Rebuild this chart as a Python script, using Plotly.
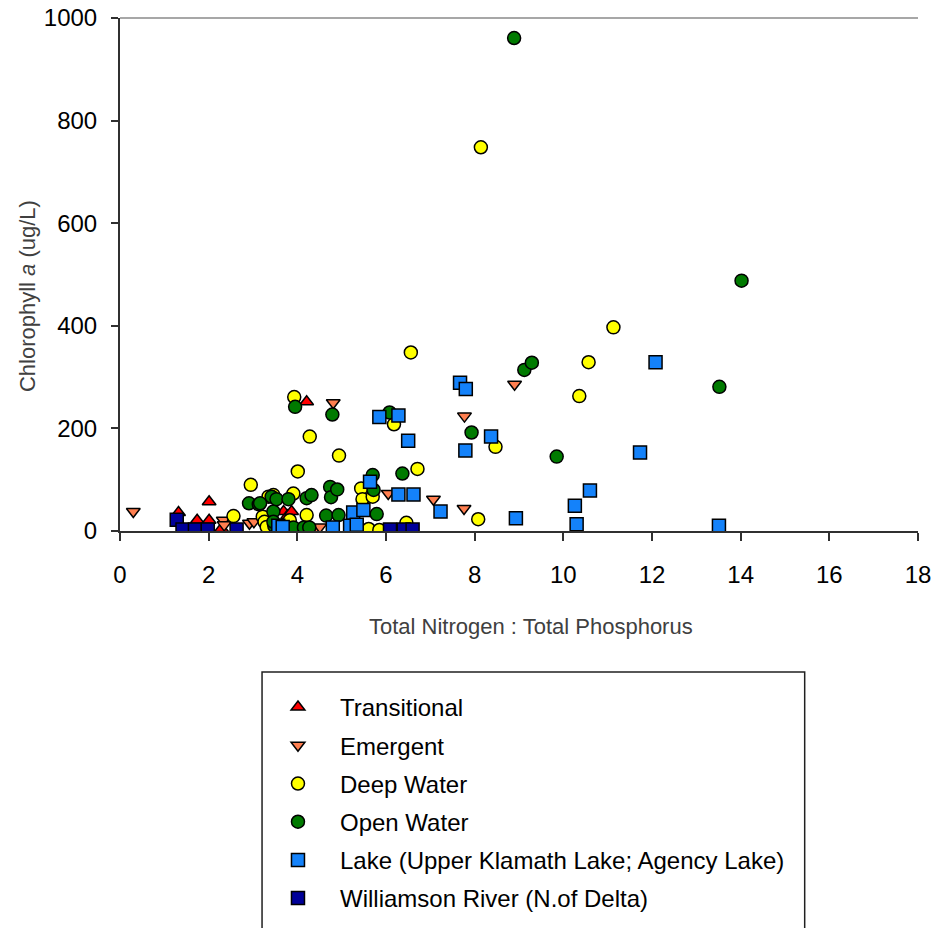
import plotly.graph_objects as go

series_names = ["Transitional", "Emergent", "Deep Water", "Open Water",
                "Lake (Upper Klamath Lake; Agency Lake)", "Williamson River (N.of Delta)"]

trans_x = [1.32, 1.74, 2.01, 2.01, 2.29, 3.69, 3.78, 3.87, 4.21]
trans_y = [36, 21, 21, 57, 5, 38, 30, 38, 252]

emerg_x = [0.30, 2.33, 2.35, 2.92, 3.02, 4.42, 4.51, 4.81, 6.05, 7.07, 7.76, 7.77, 8.90]
emerg_y = [38, 21, 12, 15, 18, 6, 8, 250, 73, 62, 44, 224, 286]

deep_x = [2.56, 2.95, 3.22, 3.26, 3.31, 3.35, 3.46, 3.83, 3.91, 3.93, 4.01, 4.21, 4.28,
          4.94, 5.44, 5.47, 5.61, 5.70, 5.85, 6.18, 6.46, 6.56, 6.71, 8.08, 8.14, 8.47,
          10.36, 10.57, 11.13]
deep_y = [29, 90, 28, 18, 8, 67, 70, 21, 73, 261, 116, 31, 184,
          147, 83, 62, 4, 67, 2, 208, 16, 348, 121, 23, 748, 164,
          263, 329, 397]

open_x = [2.91, 3.13, 3.16, 3.42, 3.46, 3.48, 3.46, 3.53, 3.80, 3.91, 3.95, 4.15, 4.21,
          4.27, 4.32, 4.65, 4.74, 4.76, 4.79, 4.90, 4.93, 5.30, 5.70, 5.72, 5.79, 6.08,
          6.37, 7.93, 8.89, 9.12, 9.29, 9.85, 13.52, 14.02]
open_y = [54, 52, 54, 67, 38, 10, 18, 62, 62, 7, 242, 7, 64,
          7, 70, 30, 86, 66, 227, 81, 31, 3, 109, 80, 33, 231,
          112, 192, 961, 314, 328, 145, 281, 488]

lake_x = [3.57, 3.67, 4.80, 5.19, 5.26, 5.34, 5.49, 5.64, 5.85, 6.28, 6.28, 6.50, 6.62,
          7.23, 7.67, 7.80, 7.79, 8.37, 8.93, 10.26, 10.30, 10.60, 11.73, 12.08, 13.51]
lake_y = [10, 8, 7, 10, 36, 12, 41, 96, 222, 225, 71, 176, 71,
          38, 289, 277, 157, 184, 25, 49, 13, 79, 153, 329, 10]

will_x = [1.28, 1.41, 1.69, 1.98, 2.63, 6.09, 6.40, 6.60]
will_y = [22, 3, 3, 3, 3, 3, 3, 3]

x_ticks = [0, 2, 4, 6, 8, 10, 12, 14, 16, 18]
y_ticks = [0, 200, 400, 600, 800, 1000]

x_title = "Total Nitrogen : Total Phosphorus"
y_title = "Chlorophyll <i>a</i> (ug/L)"

xs = [trans_x, emerg_x, deep_x, open_x, lake_x, will_x]
ys = [trans_y, emerg_y, deep_y, open_y, lake_y, will_y]
colors = ["#FF0000", "#FF7F50", "#FFFF00", "#007A00", "#1482FA", "#000099"]
symbols = ["triangle-up", "triangle-down", "circle", "circle", "square", "square"]
sizes = [12, 12, 13, 13, 13, 13]

fig = go.Figure()
for i, name in enumerate(series_names):
    fig.add_trace(go.Scatter(
        x=xs[i], y=ys[i], mode="markers", name=name, legendgroup=f"g{i}",
        marker=dict(symbol=symbols[i], color=colors[i], size=sizes[i],
                    line=dict(color="black", width=1.5)),
    ))

axis_font = dict(family="Liberation Sans, Arial, sans-serif", size=24, color="black")
title_font = dict(family="Liberation Sans, Arial, sans-serif", size=22, color="#404040")

fig.update_layout(
    width=934, height=928,
    margin=dict(l=120, r=16, t=18, b=397, autoexpand=False),
    paper_bgcolor="white", plot_bgcolor="white",
    showlegend=True,
    legend=dict(
        x=0.1704, y=-0.3002,
        xanchor="left", yanchor="top",
        font=dict(family="Liberation Sans, Arial, sans-serif", size=24, color="black"),
        itemwidth=74, tracegroupgap=4, bgcolor="rgba(0,0,0,0)", borderwidth=0,
        traceorder="grouped",
    ),
    xaxis=dict(
        range=[0, 18], tickvals=x_ticks, ticktext=[str(v) for v in x_ticks],
        showgrid=False, zeroline=False, showline=True, linecolor="#303030", linewidth=2,
        ticks="outside", ticklen=8, tickwidth=2, tickcolor="#303030",
        tickfont=axis_font, ticklabelstandoff=13,
    ),
    yaxis=dict(
        range=[0, 1000], tickvals=y_ticks, ticktext=[str(v) for v in y_ticks],
        showgrid=False, zeroline=False, showline=True, linecolor="#303030", linewidth=2,
        ticks="outside", ticklen=7, tickwidth=2, tickcolor="#303030",
        tickfont=axis_font, ticklabelstandoff=9,
    ),
    annotations=[
        dict(text=x_title, xref="paper", yref="paper", x=0.515, y=-0.187,
             xanchor="center", yanchor="middle", showarrow=False, font=title_font),
        dict(text=y_title, xref="paper", yref="paper", x=-0.1165, y=0.458,
             xanchor="center", yanchor="middle", showarrow=False, textangle=-90,
             font=title_font),
    ],
    shapes=[
        dict(type="line", xref="paper", yref="paper", x0=0, x1=1, y0=1, y1=1,
             line=dict(color="#8a8a8a", width=1.5)),
        dict(type="rect", xref="paper", yref="paper", x0=0.178, x1=0.858,
             y0=-0.79, y1=-0.2749, line=dict(color="#202020", width=1.5)),
    ],
)

fig.write_html("out.html")
